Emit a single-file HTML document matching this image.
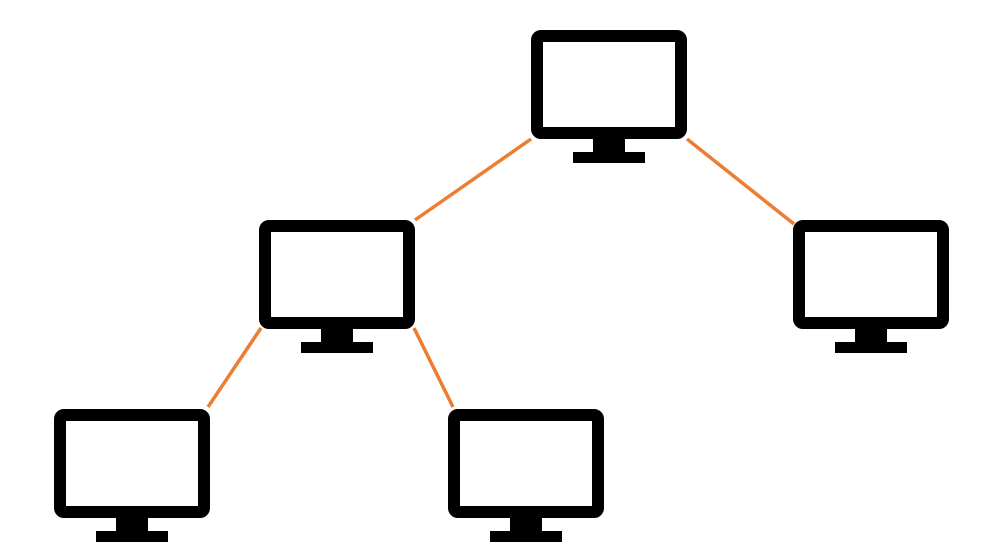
<!DOCTYPE html>
<html><head><style>html,body{margin:0;padding:0;background:#fff;}</style></head>
<body>
<svg width="987" height="555" viewBox="0 0 987 555" xmlns="http://www.w3.org/2000/svg">
<defs>
<g id="m">
<rect x="6" y="6" width="144" height="97" rx="4" fill="none" stroke="#000" stroke-width="12"/>
<rect x="62" y="109" width="32" height="14" fill="#000"/>
<rect x="42" y="122" width="72" height="11" fill="#000"/>
</g>
</defs>
<g stroke="#ED7D31" stroke-width="3.5" fill="none">
<line x1="531" y1="139" x2="415" y2="220"/>
<line x1="687" y1="139" x2="794" y2="224"/>
<line x1="261" y1="328" x2="208" y2="407"/>
<line x1="414" y1="328" x2="453" y2="407"/>
</g>
<use href="#m" x="531" y="30"/>
<use href="#m" x="259" y="220"/>
<use href="#m" x="793" y="220"/>
<use href="#m" x="54" y="409"/>
<use href="#m" x="448" y="409"/>
</svg>
</body></html>
